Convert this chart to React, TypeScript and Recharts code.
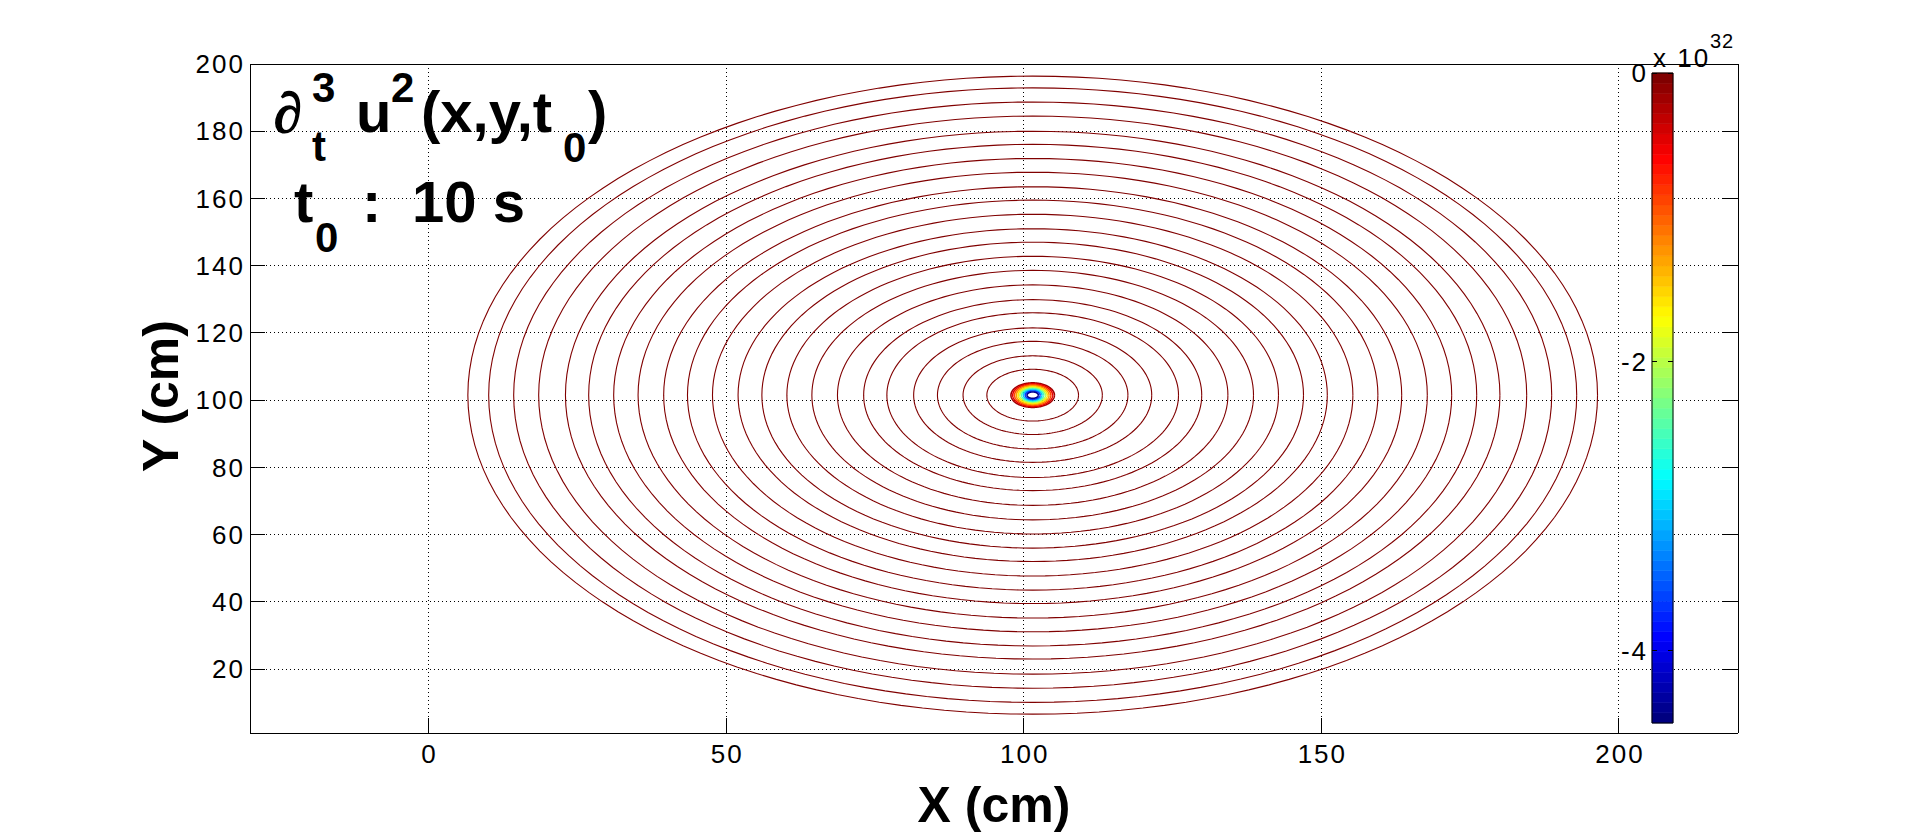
import React from 'react';
import { LineChart, Line, XAxis, YAxis, CartesianGrid, ComposedChart, ReferenceArea } from 'recharts';

// ---- data ----
const xTicks = [0, 50, 100, 150, 200];
const yTicks = [20, 40, 60, 80, 100, 120, 140, 160, 180, 200];
const xDomain: [number, number] = [-30, 220];
const yDomain: [number, number] = [1, 200];
const centerX = 101.5;
const centerY = 101.5;
// radii (cm) of the dark-red contour rings, outermost first
const ringRadii = [94.9, 91.4, 87.2, 83.0, 78.5, 74.6, 70.4, 66.3, 62.0, 58.0, 53.8, 49.5, 45.5, 41.3, 37.1, 32.8, 28.4, 24.5, 20.0, 16.0, 11.7, 7.7];
// radii of the coloured core contours, outermost first
const coreRadii = [3.65, 3.35, 3.05, 2.75, 2.45, 2.15, 1.85, 1.55, 1.25, 0.95];
const coreColors = ['#a00000', '#e80000', '#ff4a00', '#ff9a00', '#ffe600', '#b4ff4c', '#46ffba', '#00c8ff', '#0040ff', '#00008f'];
const cbTicks = [-4, -2, 0];
const cbDomain: [number, number] = [-4.5, 0];
const cbLevels = 64;

const FONT = '"Liberation Sans", Arial, Helvetica, sans-serif';
const RING_COLOR = '#800000';
const N_PTS = 160;

function ringPoints(r: number) {
  const pts: { x: number; y: number }[] = [];
  for (let i = 0; i <= N_PTS; i++) {
    const a = (i / N_PTS) * Math.PI * 2;
    pts.push({ x: centerX + r * Math.cos(a), y: centerY + r * Math.sin(a) });
  }
  return pts;
}

function jet(v: number) {
  const c = (t: number) => Math.max(0, Math.min(1, t));
  const r = c(1.5 - Math.abs(4 * v - 3));
  const g = c(1.5 - Math.abs(4 * v - 2));
  const b = c(1.5 - Math.abs(4 * v - 1));
  const h = (t: number) => Math.round(t * 255).toString(16).padStart(2, '0');
  return '#' + h(r) + h(g) + h(b);
}

const tickText = { fontFamily: FONT, fontSize: 26, fill: '#000', letterSpacing: 2 } as const;

const LeftTick = (p: any) => (
  <g>
    <line x1={p.x + 7} x2={p.x + 22} y1={p.y} y2={p.y} stroke="#000" strokeWidth={1} shapeRendering="crispEdges" />
    <text x={p.x + 2} y={p.y} dy="0.355em" textAnchor="end" {...tickText}>{p.payload.value}</text>
  </g>
);
const BottomTick = (p: any) => (
  <g>
    <line x1={p.x} x2={p.x} y1={p.y - 12} y2={p.y - 27} stroke="#000" strokeWidth={1} shapeRendering="crispEdges" />
    <text x={p.x + 1} y={p.y} dy="0.71em" textAnchor="middle" {...tickText}>{p.payload.value}</text>
  </g>
);
const RightTick = (p: any) => (
  <line x1={p.x} x2={p.x - 15} y1={p.y} y2={p.y} stroke="#000" strokeWidth={1} shapeRendering="crispEdges" />
);
const TopTick = (p: any) => (
  <line x1={p.x} x2={p.x} y1={p.y} y2={p.y + 15} stroke="#000" strokeWidth={1} shapeRendering="crispEdges" />
);
const CbTick = (p: any) => {
  const left = p.x + 6;
  return (
    <g>
      <line x1={left} x2={left + 5} y1={p.y} y2={p.y} stroke="#000" strokeWidth={1} shapeRendering="crispEdges" />
      <line x1={left + 15.5} x2={left + 20.5} y1={p.y} y2={p.y} stroke="#000" strokeWidth={1} shapeRendering="crispEdges" />
      <text x={p.x + 2} y={p.y} dy="0.355em" textAnchor="end" {...tickText}>{p.payload.value}</text>
    </g>
  );
};

export default function App() {
  const bandH = (cbDomain[1] - cbDomain[0]) / cbLevels;
  const bands = Array.from({ length: cbLevels }, (_, i) => ({
    y1: cbDomain[0] + i * bandH,
    y2: cbDomain[0] + (i + 1) * bandH,
    color: jet(i / (cbLevels - 1)),
  }));

  const bold = { fontFamily: FONT, fontWeight: 700, fill: '#000' } as const;

  return (
    <div style={{ position: 'absolute', left: 0, top: 0, width: 1920, height: 834, background: '#fff' }}>
      <div style={{ position: 'absolute', left: 0, top: 0 }}>
        <LineChart width={1920} height={834} margin={{ top: 34, left: 190, right: 122, bottom: 71 }}>
          <CartesianGrid stroke="#000" strokeDasharray="1 3" strokeWidth={1} shapeRendering="crispEdges" />
          <XAxis dataKey="x" type="number" domain={xDomain} ticks={xTicks} allowDataOverflow interval={0}
            height={30} tickSize={0} tickMargin={12} tickLine={false} tick={<BottomTick />} axisLine={{ stroke: '#000', shapeRendering: 'crispEdges' }} />
          <XAxis xAxisId="top" orientation="top" type="number" domain={xDomain} ticks={xTicks} allowDataOverflow interval={0}
            height={30} tickSize={0} tickMargin={0} tickLine={false} tick={<TopTick />} axisLine={{ stroke: '#000', shapeRendering: 'crispEdges' }} />
          <YAxis type="number" domain={yDomain} ticks={yTicks} allowDataOverflow interval={0}
            width={60} tickSize={0} tickMargin={7} tickLine={false} tick={<LeftTick />} axisLine={{ stroke: '#000', shapeRendering: 'crispEdges' }} />
          <YAxis yAxisId="right" orientation="right" type="number" domain={yDomain} ticks={yTicks} allowDataOverflow interval={0}
            width={60} tickSize={0} tickMargin={0} tickLine={false} tick={<RightTick />} axisLine={{ stroke: '#000', shapeRendering: 'crispEdges' }} />
          {ringRadii.map((r, i) => (
            <Line key={'r' + i} data={ringPoints(r)} dataKey="y" type="linear" stroke={RING_COLOR} strokeWidth={1.1}
              dot={false} activeDot={false} isAnimationActive={false} />
          ))}
          {coreRadii.map((r, i) => (
            <Line key={'c' + i} data={ringPoints(r)} dataKey="y" type="linear" stroke={coreColors[i]} strokeWidth={1.6}
              dot={false} activeDot={false} isAnimationActive={false} />
          ))}
        </LineChart>
      </div>

      <div style={{ position: 'absolute', left: 1560, top: 40 }}>
        <ComposedChart width={140} height={720} data={[{ x: 0 }, { x: 1 }]} margin={{ top: 33, left: 52, right: 27, bottom: 37 }}>
          <XAxis dataKey="x" type="number" domain={[0, 1]} hide />
          <YAxis type="number" domain={cbDomain} ticks={cbTicks} allowDataOverflow interval={0} width={40}
            tickSize={0} tickMargin={6} tickLine={false} axisLine={false} tick={<CbTick />} />
          {bands.map((b, i) => (
            <ReferenceArea key={i} x1={0} x2={1} y1={b.y1} y2={b.y2} fill={b.color} fillOpacity={1}
              stroke={b.color} strokeWidth={0.6} ifOverflow="extendDomain" />
          ))}
          <ReferenceArea x1={0} x2={1} y1={cbDomain[0]} y2={cbDomain[1]} fill="none" stroke="#000" strokeWidth={1} ifOverflow="extendDomain" />
        </ComposedChart>
      </div>

      <svg width={1920} height={834} style={{ position: 'absolute', left: 0, top: 0, pointerEvents: 'none' }}>
        {/* title line 1 */}
        <text x={274} y={132} fontFamily='"Liberation Serif", "DejaVu Serif", serif' fontWeight={700} fontSize={56}
          fill="#000" stroke="#000" strokeWidth={1.6}>∂</text>
        <text x={312} y={102} fontSize={42} {...bold}>3</text>
        <text x={312} y={161} fontSize={42} {...bold}>t</text>
        <text x={356} y={132} fontSize={58} {...bold}>u</text>
        <text x={391} y={102} fontSize={42} {...bold}>2</text>
        <text x={421} y={132} fontSize={58} {...bold}>(x,y,t</text>
        <text x={563} y={162} fontSize={42} {...bold}>0</text>
        <text x={588} y={132} fontSize={58} {...bold}>)</text>
        {/* title line 2 */}
        <text x={294} y={222} fontSize={58} {...bold}>t</text>
        <text x={315} y={252} fontSize={42} {...bold}>0</text>
        <text x={362} y={222} fontSize={58} {...bold}>:</text>
        <text x={412} y={222} fontSize={58} {...bold}>10 s</text>
        {/* axis labels */}
        <text x={994} y={822} textAnchor="middle" fontSize={50} {...bold}>X (cm)</text>
        <text x={178} y={396} textAnchor="middle" fontSize={50} transform="rotate(-90 178 396)" {...bold}>Y (cm)</text>
        {/* colorbar multiplier */}
        <text x={1653} y={67} fontFamily={FONT} fontSize={26} letterSpacing={2} fill="#000">x 10</text>
        <text x={1710} y={48} fontFamily={FONT} fontSize={20} letterSpacing={1} fill="#000">32</text>
      </svg>
    </div>
  );
}
